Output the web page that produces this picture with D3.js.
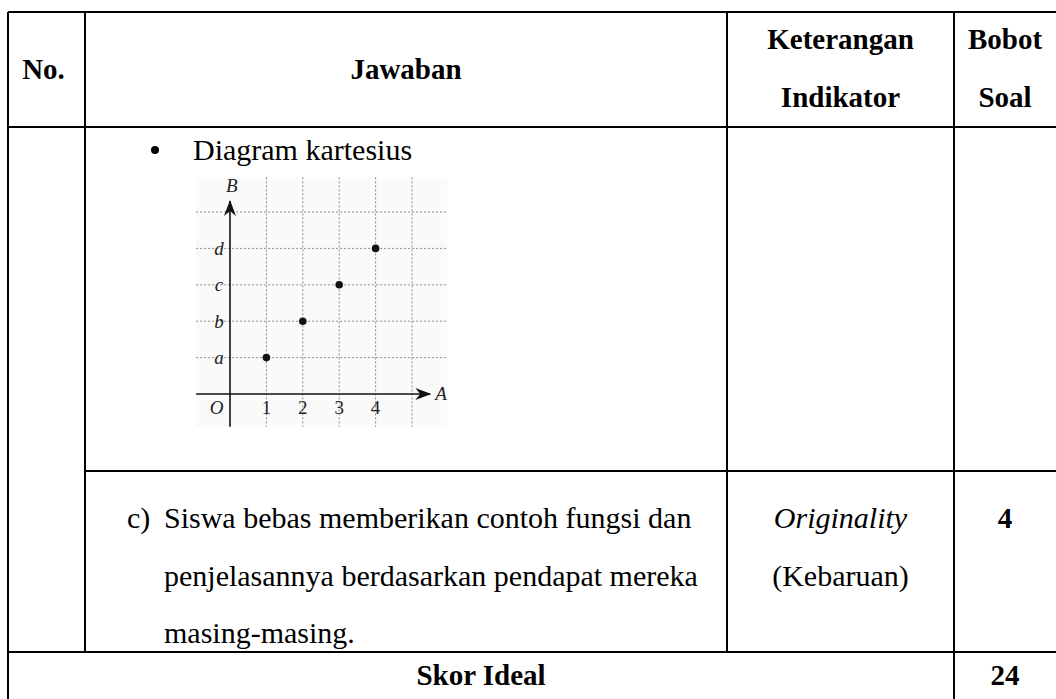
<!DOCTYPE html>
<html>
<head>
<meta charset="utf-8">
<script src="https://cdn.jsdelivr.net/npm/d3@7"></script>
<style>
  body { margin: 0; background: #fff; }
  svg { display: block; font-family: "Liberation Serif", "Times New Roman", serif; }
</style>
</head>
<body>
<svg class="rubric" width="1056" height="699"></svg>
<script>
// table text
const headNo = "No.";
const headJawaban = "Jawaban";
const headKet = ["Keterangan", "Indikator"];
const headBobot = ["Bobot", "Soal"];
const bulletText = "Diagram kartesius";
const answerPrefix = "c)";
const answerLines = ["Siswa bebas memberikan contoh fungsi dan",
                     "penjelasannya berdasarkan pendapat mereka",
                     "masing-masing."];
const indicatorLines = ["Originality", "(Kebaruan)"];
const bobotValue = "4";
const skorLabel = "Skor Ideal";
const skorValue = "24";

// cartesian diagram data
const domainA = [1, 2, 3, 4];
const codomainB = ["a", "b", "c", "d"];
const pairs = [
    { a: 1, b: "a" },
    { a: 2, b: "b" },
    { a: 3, b: "c" },
    { a: 4, b: "d" }
];

const svg = d3.select("svg.rubric");

// column edges and row edges of the table
const colX = [8, 85, 727, 954, 1062];
const rowY = [12, 127, 471, 652, 701];
const line = (x1, y1, x2, y2) => svg.append("line")
    .attr("x1", x1).attr("y1", y1).attr("x2", x2).attr("y2", y2)
    .attr("stroke", "#000").attr("stroke-width", 2);

line(colX[0], rowY[0], colX[4], rowY[0]);
line(colX[0], rowY[1], colX[4], rowY[1]);
line(colX[1], rowY[2], colX[4], rowY[2]);
line(colX[0], rowY[3], colX[4], rowY[3]);
line(colX[0], rowY[4], colX[4], rowY[4]);
line(colX[0], rowY[0], colX[0], rowY[4]);
line(colX[1], rowY[0], colX[1], rowY[3]);
line(colX[2], rowY[0], colX[2], rowY[3]);
line(colX[3], rowY[0], colX[3], rowY[4]);
line(colX[4], rowY[0], colX[4], rowY[4]);

const text = (x, y, s, opts = {}) => svg.append("text")
    .attr("x", x).attr("y", y)
    .attr("text-anchor", opts.anchor || "middle")
    .attr("font-size", opts.size || 30)
    .attr("font-weight", opts.bold ? "bold" : "normal")
    .attr("font-style", opts.italic ? "italic" : "normal")
    .attr("fill", "#000")
    .text(s);

// header
const mid = (i) => (colX[i] + colX[i + 1]) / 2;
const hs = 29;
text(mid(0) - 3, 79, headNo, { bold: true, size: hs });
text(mid(1), 79, headJawaban, { bold: true, size: hs });
headKet.forEach((s, i) => text(mid(2), 49 + i * 58, s, { bold: true, size: hs }));
text(1005, 49, headBobot[0], { bold: true, size: hs });
text(1005, 107, headBobot[1], { bold: true, size: hs });

// bullet row
svg.append("circle").attr("cx", 155).attr("cy", 150).attr("r", 4).attr("fill", "#000");
text(193, 160, bulletText, { anchor: "start" });

// answer c row
text(127, 528, answerPrefix, { anchor: "start" });
answerLines.forEach((s, i) => text(164, 528 + i * 57.5, s, { anchor: "start" }));
text(mid(2), 528, indicatorLines[0], { italic: true });
text(mid(2), 585.5, indicatorLines[1]);
text(1005, 528, bobotValue, { bold: true, size: hs });

// skor row
text((colX[0] + colX[3]) / 2, 685, skorLabel, { bold: true, size: hs });
text(1005, 685, skorValue, { bold: true, size: hs });

// ---- cartesian diagram ----
const unit = 36.4;
const origin = { x: 230, y: 394 };
const x = d3.scaleLinear().domain([0, 1]).range([origin.x, origin.x + unit]);
const y = d3.scaleLinear().domain([0, 1]).range([origin.y, origin.y - unit]);
const yIndex = d3.scaleOrdinal().domain(codomainB).range([1, 2, 3, 4]);

const g = svg.append("g").attr("class", "diagram");
const gLeft = x(-0.93), gRight = x(5.97), gTop = y(5.95), gBottom = y(-0.9);

g.append("rect")
    .attr("x", gLeft).attr("y", gTop)
    .attr("width", gRight - gLeft).attr("height", gBottom - gTop)
    .attr("fill", "#fafafa");

const gridV = [1, 2, 3, 4, 5];
const gridH = [1, 2, 3, 4, 5];
g.selectAll("line.gv").data(gridV).join("line")
    .attr("class", "gv")
    .attr("x1", d => x(d)).attr("x2", d => x(d))
    .attr("y1", gTop).attr("y2", gBottom)
    .attr("stroke", "#8a8a8a").attr("stroke-width", 1).attr("stroke-dasharray", "2,2");
g.selectAll("line.gh").data(gridH).join("line")
    .attr("class", "gh")
    .attr("x1", gLeft).attr("x2", gRight)
    .attr("y1", d => y(d)).attr("y2", d => y(d))
    .attr("stroke", "#8a8a8a").attr("stroke-width", 1).attr("stroke-dasharray", "2,2");

// axes
g.append("line")
    .attr("x1", gLeft).attr("x2", x(5.5)).attr("y1", y(0)).attr("y2", y(0))
    .attr("stroke", "#111").attr("stroke-width", 1.6);
g.append("line")
    .attr("x1", x(0)).attr("x2", x(0)).attr("y1", gBottom).attr("y2", y(5.3))
    .attr("stroke", "#111").attr("stroke-width", 1.6);

// arrow heads
const ax = x(5.53), ay = y(0);
g.append("path")
    .attr("d", `M${ax},${ay} L${ax - 16},${ay - 6} L${ax - 11},${ay} L${ax - 16},${ay + 6} Z`)
    .attr("fill", "#111");
const bx = x(0), by = y(5.33);
g.append("path")
    .attr("d", `M${bx},${by} L${bx - 6},${by + 16} L${bx},${by + 11} L${bx + 6},${by + 16} Z`)
    .attr("fill", "#111");

// tick labels
const small = (px, py, s, italic) => g.append("text")
    .attr("x", px).attr("y", py)
    .attr("text-anchor", "middle")
    .attr("dominant-baseline", "central")
    .attr("font-size", 19)
    .attr("font-style", italic ? "italic" : "normal")
    .attr("fill", "#222")
    .text(s);

domainA.forEach(d => small(x(d), y(-0.38), d, false));
codomainB.forEach(b => small(x(-0.3), y(yIndex(b)), b, true));
small(x(-0.37), y(-0.38), "O", true);
small(x(5.8), y(0.02), "A", true);
small(x(0.05), y(5.72), "B", true);

// points
g.selectAll("circle.pt").data(pairs).join("circle")
    .attr("class", "pt")
    .attr("cx", d => x(d.a))
    .attr("cy", d => y(yIndex(d.b)))
    .attr("r", 3.8)
    .attr("fill", "#111");
</script>
</body>
</html>
